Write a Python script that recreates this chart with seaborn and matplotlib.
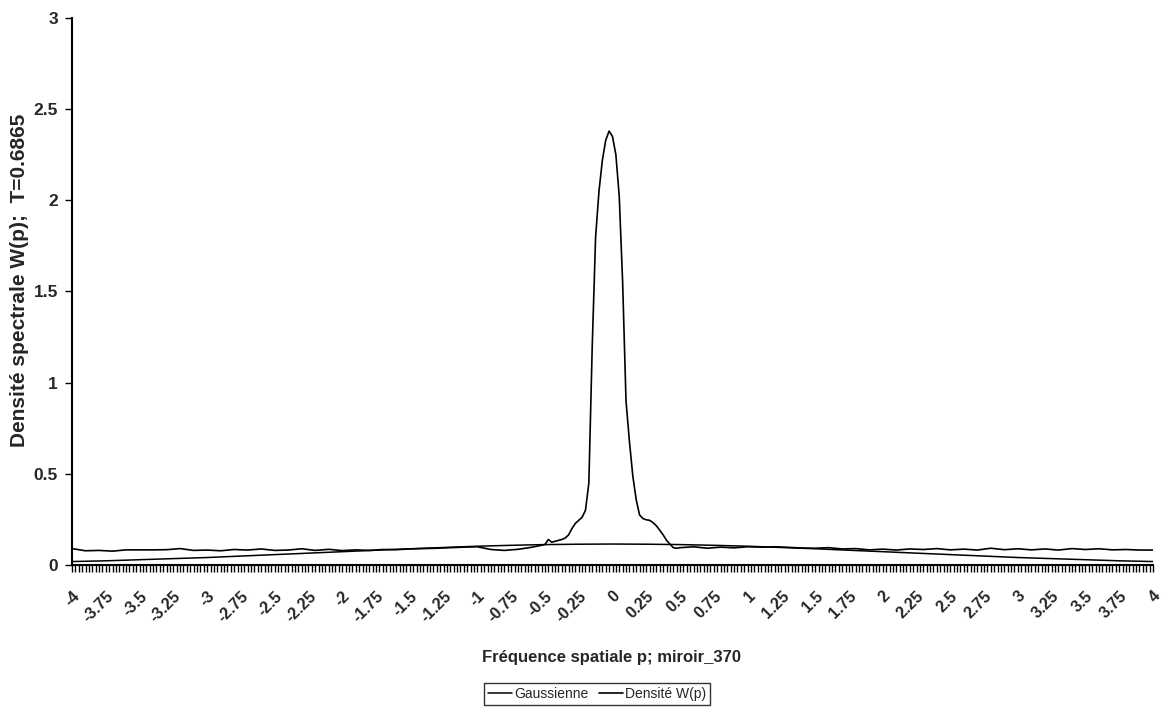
import numpy as np
import pandas as pd
import matplotlib
matplotlib.use("Agg")
import matplotlib.pyplot as plt
import seaborn as sns
from matplotlib.ticker import MultipleLocator

# ---------------- data ----------------
tick_values = [-4, -3.75, -3.5, -3.25, -3, -2.75, -2.5, -2.25, -2, -1.75, -1.5, -1.25,
               -1, -0.75, -0.5, -0.25, 0, 0.25, 0.5, 0.75, 1, 1.25, 1.5, 1.75,
               2, 2.25, 2.5, 2.75, 3, 3.25, 3.5, 3.75, 4]
tick_labels = ["-4", "-3.75", "-3.5", "-3.25", "-3", "-2.75", "-2.5", "-2.25", "-2",
               "-1.75", "-1.5", "-1.25", "-1", "-0.75", "-0.5", "-0.25", "0", "0.25",
               "0.5", "0.75", "1", "1.25", "1.5", "1.75", "2", "2.25", "2.5", "2.75",
               "3", "3.25", "3.5", "3.75", "4"]

# Gaussienne (smooth curve), sampled every 0.25
gauss_p = tick_values
gauss_w = [0.019, 0.023, 0.029, 0.035, 0.041, 0.049, 0.057, 0.065, 0.073, 0.081,
           0.089, 0.096, 0.103, 0.108, 0.112, 0.114, 0.115, 0.114, 0.112, 0.108,
           0.103, 0.096, 0.089, 0.081, 0.073, 0.065, 0.057, 0.049, 0.041, 0.035,
           0.029, 0.023, 0.019]

# Densité W(p)
dens_left_p = [-4.0, -3.9, -3.8, -3.7, -3.6, -3.5, -3.4, -3.3, -3.2, -3.1, -3.0, -2.9,
               -2.8, -2.7, -2.6, -2.5, -2.4, -2.3, -2.2, -2.1, -2.0, -1.9, -1.8, -1.7,
               -1.6, -1.5, -1.4, -1.3, -1.2, -1.1, -1.0, -0.9, -0.8, -0.7, -0.6, -0.5]
dens_left_w = [0.090, 0.078, 0.080, 0.076, 0.083, 0.083, 0.083, 0.084, 0.090, 0.080,
               0.082, 0.078, 0.085, 0.082, 0.088, 0.080, 0.082, 0.089, 0.080, 0.086,
               0.079, 0.083, 0.080, 0.085, 0.084, 0.088, 0.090, 0.092, 0.095, 0.098,
               0.100, 0.085, 0.080, 0.086, 0.097, 0.112]
dens_mid_p = [-0.475, -0.45, -0.425, -0.4, -0.375, -0.35, -0.325, -0.3, -0.275, -0.25,
              -0.225, -0.2, -0.175, -0.15, -0.125, -0.1, -0.075, -0.05, -0.025, 0.0,
              0.025, 0.05, 0.075, 0.1, 0.125, 0.15, 0.175, 0.2, 0.225, 0.25, 0.275,
              0.3, 0.325, 0.35, 0.375, 0.4, 0.425, 0.45, 0.475]
dens_mid_w = [0.140, 0.125, 0.130, 0.135, 0.140, 0.148, 0.165, 0.200, 0.228, 0.245,
              0.262, 0.300, 0.450, 1.200, 1.800, 2.050, 2.220, 2.330, 2.380, 2.350,
              2.250, 2.020, 1.550, 0.900, 0.680, 0.490, 0.360, 0.275, 0.255, 0.248,
              0.245, 0.232, 0.215, 0.190, 0.165, 0.135, 0.115, 0.095, 0.092]
dens_right_p = [0.5, 0.6, 0.7, 0.8, 0.9, 1.0, 1.1, 1.2, 1.3, 1.4, 1.5, 1.6, 1.7, 1.8,
                1.9, 2.0, 2.1, 2.2, 2.3, 2.4, 2.5, 2.6, 2.7, 2.8, 2.9, 3.0, 3.1, 3.2,
                3.3, 3.4, 3.5, 3.6, 3.7, 3.8, 3.9, 4.0]
dens_right_w = [0.095, 0.100, 0.092, 0.098, 0.094, 0.100, 0.098, 0.100, 0.097, 0.093,
                0.092, 0.095, 0.088, 0.090, 0.083, 0.087, 0.082, 0.088, 0.085, 0.090,
                0.083, 0.087, 0.082, 0.092, 0.084, 0.089, 0.083, 0.088, 0.082, 0.090,
                0.085, 0.089, 0.083, 0.085, 0.082, 0.082]

# ---------------- build frames ----------------
df_gauss = pd.DataFrame({"p": gauss_p, "W": gauss_w})
df_dens = pd.DataFrame({"p": dens_left_p + dens_mid_p + dens_right_p,
                        "W": dens_left_w + dens_mid_w + dens_right_w})

# ---------------- style ----------------
sns.set_style("white")
plt.rcParams["font.family"] = ["Liberation Sans", "DejaVu Sans"]

W, H = 1166, 714
x_left, x_right, y_bot, y_top = 72, 1153, 565, 18
fig = plt.figure(figsize=(W / 100, H / 100), dpi=100)
ax = fig.add_axes([x_left / W, 1 - y_bot / H, (x_right - x_left) / W, (y_bot - y_top) / H])

sns.lineplot(data=df_gauss, x="p", y="W", ax=ax, color="black", linewidth=1.1,
             label="Gaussienne", sort=False)
sns.lineplot(data=df_dens, x="p", y="W", ax=ax, color="black", linewidth=1.2,
             label="Densité W(p)", sort=False)

ax.set_xlim(-4, 4)
ax.set_ylim(0, 3)
ax.set_yticks([0, 0.5, 1, 1.5, 2, 2.5, 3])
ax.set_yticklabels(["0", "0.5", "1", "1.5", "2", "2.5", "3"])
ax.set_xticks(tick_values)
ax.set_xticklabels(tick_labels, rotation=45, ha="right", va="top",
                   rotation_mode="anchor")
ax.xaxis.set_minor_locator(MultipleLocator(0.025))

for lab in ax.get_xticklabels():
    lab.set_fontweight("bold")
    lab.set_fontsize(11.5)
for lab in ax.get_yticklabels():
    lab.set_fontweight("bold")
    lab.set_fontsize(12.5)

ax.tick_params(axis="x", which="both", bottom=True, direction="out", length=5,
               width=1, color="black")
ax.tick_params(axis="x", which="major", pad=12)
ax.tick_params(axis="y", which="major", left=True, direction="out", length=5,
               width=1, color="black", pad=5)

for s in ["top", "right"]:
    ax.spines[s].set_visible(False)
for s in ["left", "bottom"]:
    ax.spines[s].set_color("black")
    ax.spines[s].set_linewidth(1.5)

ax.set_xlabel("Fréquence spatiale p; miroir_370", fontsize=12, fontweight="bold",
              labelpad=0)
ax.xaxis.set_label_coords((612 - x_left) / (x_right - x_left),
                          -(650 - y_bot) / (y_bot - y_top))
ax.set_ylabel("Densité spectrale W(p);  T=0.6865", fontsize=15, fontweight="bold")
ax.yaxis.set_label_coords(-(x_left - 29) / (x_right - x_left), 0.52)

ax.get_legend().remove()
handles, labels = ax.get_legend_handles_labels()
leg = fig.legend(handles, labels, loc="center",
                 bbox_to_anchor=(597 / W, 1 - 694 / H), ncol=2,
                 frameon=True, fancybox=False, edgecolor="black", fontsize=10,
                 handlelength=1.7, handletextpad=0.15, columnspacing=0.8,
                 borderpad=0.3, borderaxespad=0)
leg.get_frame().set_linewidth(1.0)

fig.savefig("out.png", dpi=100)
